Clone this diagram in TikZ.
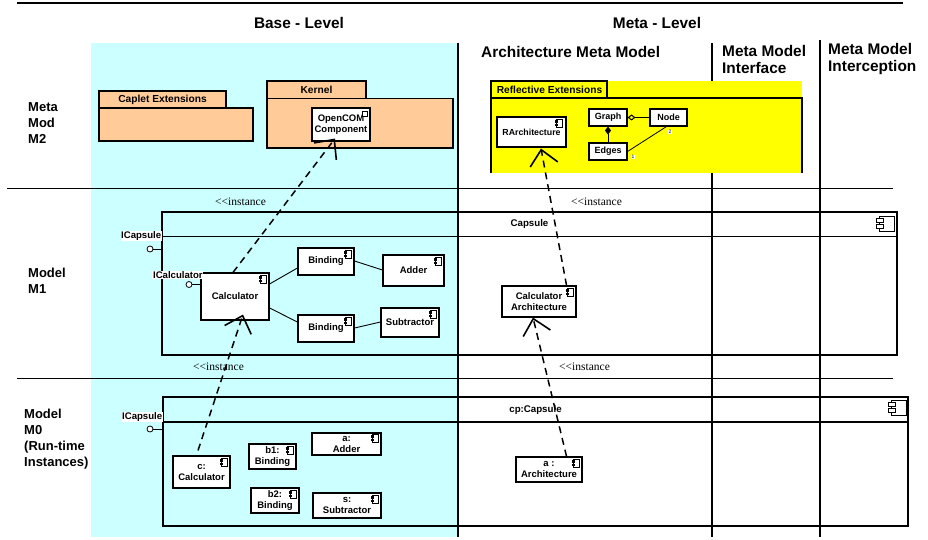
\documentclass[tikz,border=0pt]{standalone}
\usepackage{fontspec}
\setmainfont{Liberation Sans}
\newfontfamily\tmsfont{Liberation Serif}
\usetikzlibrary{arrows.meta,calc}
\definecolor{cyanbg}{HTML}{CCFFFF}
\definecolor{peach}{HTML}{FFCC99}
\definecolor{yel}{HTML}{FFFF00}
\tikzset{
  grid/.style={line width=1.4pt},
  cbox/.style={draw, fill=white, line width=1.1pt, inner sep=0pt, align=center,
    font=\bfseries\fontsize{9.5}{11}\selectfont},
  pkg/.style={draw, fill=peach, line width=1.1pt},
  pkglbl/.style={inner sep=0pt, font=\bfseries\fontsize{10.2}{12}\selectfont},
  rowlbl/.style={font=\bfseries\fontsize{13}{16}\selectfont, align=left, inner sep=0pt, anchor=north west},
  hdr/.style={font=\bfseries\fontsize{15.4}{17}\selectfont, inner sep=0pt},
  inst/.style={font=\tmsfont\fontsize{11.5}{13}\selectfont, inner sep=0pt, anchor=west},
  ifc/.style={fill=white, inner sep=0.6pt, font=\bfseries\fontsize{9.6}{11}\selectfont},
  caphdr/.style={inner sep=0pt, font=\bfseries\fontsize{9.7}{11}\selectfont},
  lolli/.style={circle, draw, line width=0.8pt, fill=white, inner sep=0pt, minimum size=6pt},
  dep/.style={dash pattern=on 7pt off 5pt, line width=1.5pt,
    -{Straight Barb[length=15pt,width=28pt,line width=1.6pt]}},
  capbox/.style={draw, line width=1.3pt, inner sep=0pt},
  tiny/.style={fill=white, inner sep=0.3pt, font=\fontsize{5}{5}\selectfont},
  cicon/.pic={\draw[line width=0.7pt,fill=white] (-2.5,-4) rectangle (3.5,4);
    \fill (-4,-3) rectangle (-1,-0.6); \fill (-4,0.6) rectangle (-1,3);},
  bicon/.pic={\draw[line width=0.8pt] (-7.5,-7.5) rectangle (7.5,7.5);
    \draw[line width=0.8pt,fill=white] (-10.5,-5.5) rectangle (-3.5,-1.5);
    \draw[line width=0.8pt,fill=white] (-10.5,0.5) rectangle (-3.5,4.5);}
}
\begin{document}
\begin{tikzpicture}[x=1pt,y=-1pt]
\useasboundingbox (0,0) rectangle (928,540);
\fill[white] (0,0) rectangle (928,540);
% cyan base level region
\fill[cyanbg] (91,43) rectangle (458,537);
% grid lines
\draw[grid] (17,3) -- (903,3);
\draw[grid] (7,188.5) -- (893,188.5);
\draw[grid] (17,378.5) -- (893,378.5);
\draw[grid] (458,43) -- (458,537);
\draw[grid] (712,43) -- (712,537);
\draw[grid] (820,40) -- (820,537);
% headers
\node[hdr, anchor=base] (base) at (299,29) {Base - Level};
\node[hdr, anchor=base] (meta) at (657,29) {Meta - Level};
\node[hdr, anchor=base west] (amm) at (481,58) {Architecture Meta Model};
\node[hdr, anchor=north west, align=left] (mmi) at (722,45) {Meta Model\\Interface};
\node[hdr, anchor=north west, align=left] (mmx) at (828,43) {Meta Model\\Interception};
% row labels
\node[rowlbl] (m2) at (28,102.5) {\fontsize{13}{15.5}\selectfont Meta\\Mod\\M2};
\node[rowlbl] (m1) at (28,267.5) {Model\\M1};
\node[rowlbl] (m0) at (24,408.5) {\fontsize{13}{16.3}\selectfont Model\\M0\\(Run-time\\Instances)};
% M2 packages
\draw[pkg] (99,91) rectangle (226,108);
\draw[pkg] (99,108) rectangle (253,141);
\node[pkglbl] (caplet) at (162.5,99.5) {Caplet Extensions};
\draw[pkg] (267,81) rectangle (366,98.5);
\draw[pkg] (267,98.5) rectangle (453,148);
\node[pkglbl] (kernel) at (316.5,90) {Kernel};
\node[cbox, minimum width=58, minimum height=33] (opencom) at (341,124.5) {OpenCOM\\Component};
\draw[line width=0.6pt, fill=white] ($(opencom.north east)+(-8,4)$) rectangle ($(opencom.north east)+(-3,9)$);
% reflective extensions
\fill[yel] (491,81) rectangle (802,173);
\draw[line width=1.1pt] (491,81) rectangle (607,98);
\draw[line width=1.1pt] (491,173) -- (491,98) -- (802,98) -- (802,173);
\node[pkglbl] (refl) at (549.5,89.5) {Reflective Extensions};
\node[cbox, minimum width=69, minimum height=30, font=\bfseries\fontsize{8.8}{10}\selectfont] (rarch) at (531.5,132) {RArchitecture};
\pic at ($(rarch.north east)+(-8,7)$) {cicon};
\node[cbox, minimum width=38, minimum height=17, font=\bfseries\fontsize{9}{10}\selectfont] (graph) at (608,117.5) {Graph};
\node[cbox, minimum width=37, minimum height=17, font=\bfseries\fontsize{9}{10}\selectfont] (nodeB) at (668.5,117.5) {Node};
\node[cbox, minimum width=38, minimum height=17, font=\bfseries\fontsize{9}{10}\selectfont] (edges) at (608,151.5) {Edges};
\draw[line width=1pt, {Diamond[open,length=8pt,width=6pt]}-] (graph.east) -- (nodeB.west);
\draw[line width=1pt, {Diamond[length=8pt,width=6pt]}-] (graph.south) -- (edges.north);
\draw[line width=0.8pt] (edges.east) -- ($(nodeB.south)+(-2,0)$);
\node[tiny] (two) at (670,132) {2};
\node[tiny] (one) at (633,157) {1};
% M1 capsule
\node[capbox, minimum width=735, minimum height=143] (cap1) at (529.5,283.5) {};
\draw[line width=1.3pt] (cap1.west |- 0,236.5) -- (cap1.east |- 0,236.5);
\node[caphdr] (cap1t) at (529.5,224) {Capsule};
\pic at (886.5,223.5) {bicon};
\node[ifc, anchor=east] (icap1) at (162,236) {ICapsule};
\node[lolli] (lp1) at (150,249) {};
\draw[line width=0.8pt] (lp1) -- (lp1 -| cap1.west);
\node[cbox, minimum width=68, minimum height=47] (calc) at (235,296.5) {Calculator};
\pic at ($(calc.north east)+(-7,7)$) {cicon};
\node[ifc, anchor=east] (icalc) at (203.5,275) {ICalculator};
\node[lolli] (lp2) at (189,284.5) {};
\draw[line width=0.8pt] (lp2) -- (lp2 -| calc.west);
\node[cbox, minimum width=56, minimum height=27] (bind1) at (326,261.5) {Binding};
\pic at ($(bind1.north east)+(-7,7)$) {cicon};
\node[cbox, minimum width=56, minimum height=27] (bind2) at (326,328.5) {Binding};
\pic at ($(bind2.north east)+(-7,7)$) {cicon};
\node[cbox, minimum width=61, minimum height=31] (adder) at (413.5,270.5) {Adder};
\pic at ($(adder.north east)+(-7,7)$) {cicon};
\node[cbox, minimum width=58, minimum height=29] (subtr) at (410,322.5) {Subtractor};
\pic at ($(subtr.north east)+(-7,7)$) {cicon};
\draw[line width=0.9pt] ($(calc.east)+(0,-12.5)$) -- ($(bind1.west)+(0,6.5)$);
\draw[line width=0.9pt] ($(bind1.east)+(0,-0.5)$) -- ($(adder.west)+(0,-0.5)$);
\draw[line width=0.9pt] ($(calc.east)+(0,11.5)$) -- ($(bind2.west)+(0,-6.5)$);
\draw[line width=0.9pt] ($(bind2.east)+(0,-0.5)$) -- ($(subtr.west)+(0,-0.5)$);
\node[cbox, minimum width=74, minimum height=31] (calcarch) at (539,301.5) {Calculator\\Architecture};
\pic at ($(calcarch.north east)+(-7,7)$) {cicon};
% M0 capsule
\node[capbox, minimum width=745, minimum height=129] (cap0) at (535.5,461.5) {};
\draw[line width=1.3pt] (cap0.west |- 0,422) -- (cap0.east |- 0,422);
\node[caphdr] (cap0t) at (535.5,410) {cp:Capsule};
\pic at (898.5,407.5) {bicon};
\node[ifc, anchor=east] (icap0) at (163,417) {ICapsule};
\node[lolli] (lp0) at (150,429) {};
\draw[line width=0.8pt] (lp0) -- (lp0 -| cap0.west);
\node[cbox, minimum width=57, minimum height=32] (cc) at (201.5,472) {c:\\Calculator};
\pic at ($(cc.north east)+(-7,7)$) {cicon};
\node[cbox, minimum width=47, minimum height=25] (b1) at (272.5,456.5) {b1:\\Binding};
\pic at ($(b1.north east)+(-7,7)$) {cicon};
\node[cbox, minimum width=69, minimum height=22] (aadd) at (346.5,444) {a:\\Adder};
\pic at ($(aadd.north east)+(-7,6)$) {cicon};
\node[cbox, minimum width=48, minimum height=25] (b2) at (275,500.5) {b2:\\Binding};
\pic at ($(b2.north east)+(-7,7)$) {cicon};
\node[cbox, minimum width=68, minimum height=25] (ssub) at (347,505.5) {s:\\Subtractor};
\pic at ($(ssub.north east)+(-7,7)$) {cicon};
\node[cbox, minimum width=66, minimum height=25] (aarch) at (549,469.5) {a :\\Architecture};
\pic at ($(aarch.north east)+(-7,7)$) {cicon};
% instance labels
\node[inst] (i1) at (215,202) {<{}<instance};
\node[inst] (i2) at (571,202) {<{}<instance};
\node[inst] (i3) at (193,366.5) {<{}<instance};
\node[inst] (i4) at (559,366.5) {<{}<instance};
% instance dependencies
\draw[dep] ($(calc.north)+(-2,0)$) -- ($(opencom.south)+(-6,-3)$);
\draw[dep] ($(cc.north)+(-3.5,-5)$) -- ($(calc.south)+(8,-6)$);
\draw[dep] ($(calcarch.north east)+(-10,0)$) -- ($(rarch.south)+(9.5,1)$);
\draw[dep] ($(aarch.north east)+(-16,0)$) -- ($(calcarch.south)+(-6,0)$);
\end{tikzpicture}
\end{document}
